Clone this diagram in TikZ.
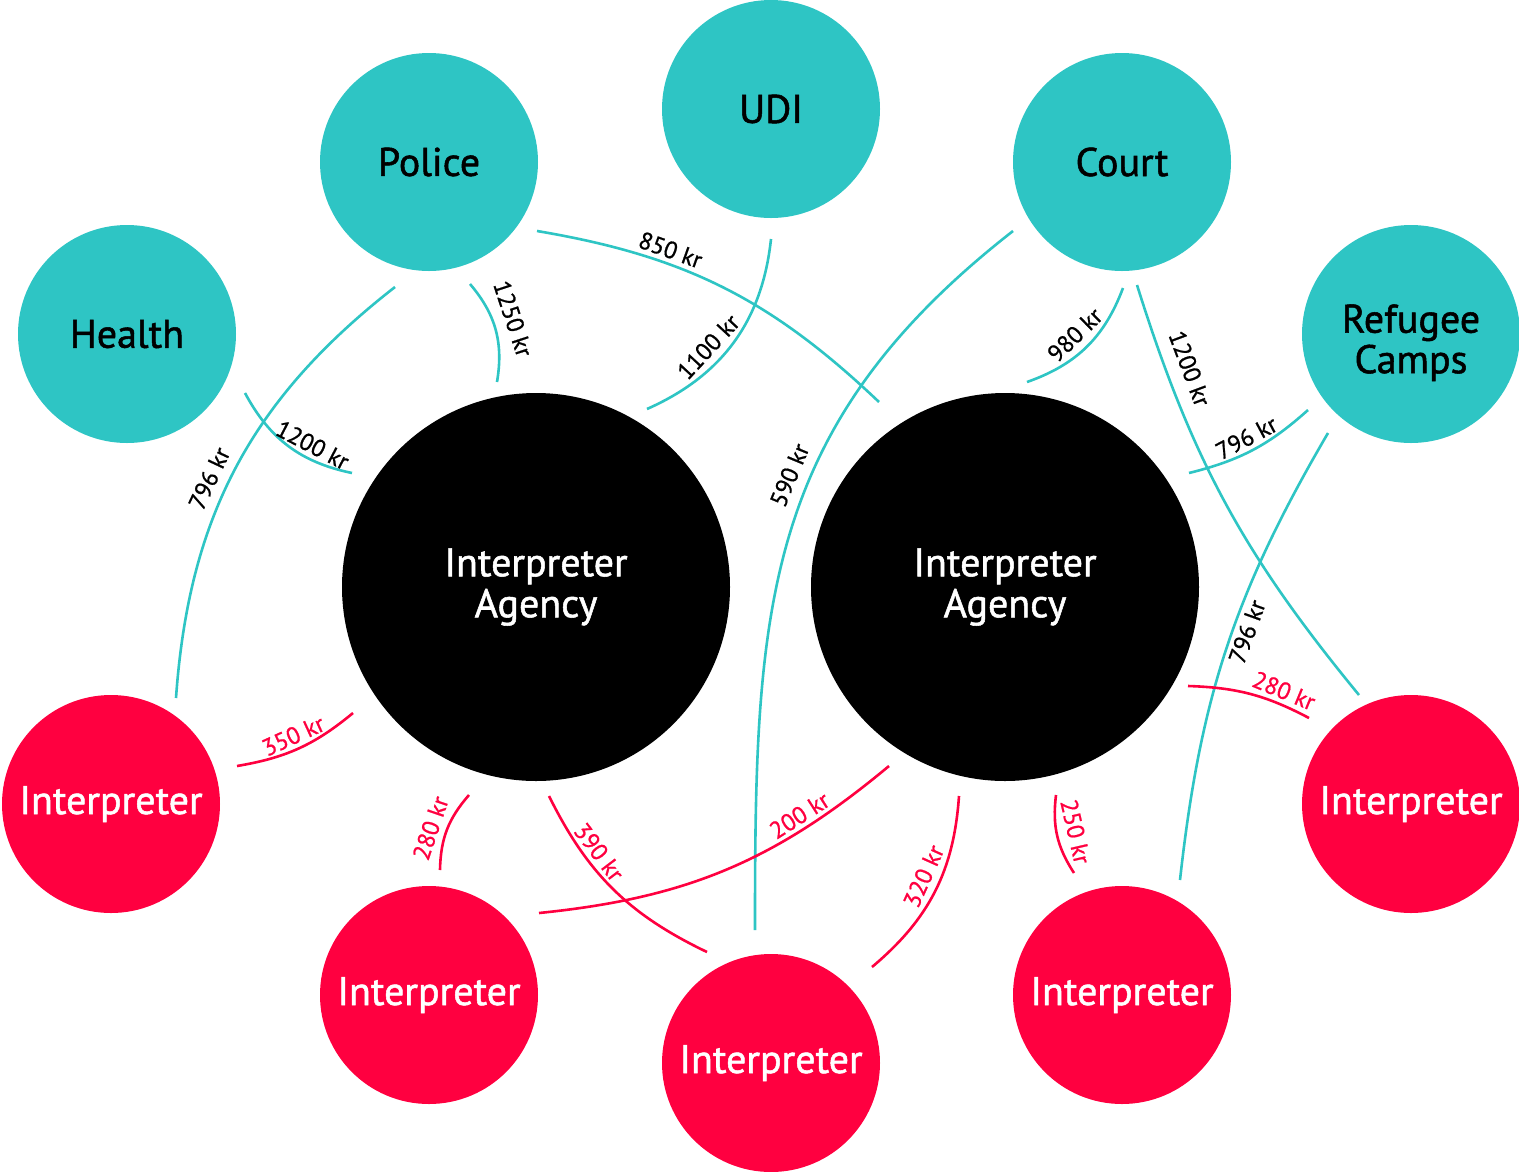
\documentclass[tikz,border=0pt]{standalone}
\usepackage{fontspec}
\setmainfont{PT Sans}
\newfontfamily\heavy{PT Sans}[FakeBold=1.3]
\newfontfamily\medium{PT Sans}[FakeBold=0.8]
\definecolor{teal}{RGB}{46,197,196}
\definecolor{redint}{RGB}{255,0,64}
\tikzset{
  org/.style={circle, fill=teal, minimum size=218pt, inner sep=0pt, text=black, align=center, font=\heavy\fontsize{40}{40}\selectfont},
  agency/.style={circle, fill=black, minimum size=388pt, inner sep=0pt, text=white, align=center, font=\heavy\fontsize{40}{41}\selectfont},
  interp/.style={circle, fill=redint, minimum size=218pt, inner sep=0pt, text=white, font=\heavy\fontsize{40}{40}\selectfont},
  tlink/.style={draw=teal, line width=2.6pt},
  rlink/.style={draw=redint, line width=2.6pt},
  tfee/.style={sloped, inner sep=4pt, text=black, font=\medium\fontsize{24}{24}\selectfont},
  rfee/.style={sloped, inner sep=4pt, text=redint, font=\medium\fontsize{24}{24}\selectfont},
}
\begin{document}
\begin{tikzpicture}[x=1pt,y=-1pt]
\useasboundingbox[fill=white] (0,0) rectangle (1519,1171);

% clients
\node[org] (health) at (127,334) {Health};
\node[org] (police) at (429,162) {Police};
\node[org] (udi) at (771,109) {UDI};
\node[org] (court) at (1122,162) {Court};
\node[org] (camps) at (1411,334) {\raisebox{-17pt}[0pt][0pt]{\begin{tabular}{@{}c@{}}Refugee\\Camps\end{tabular}}};

% agencies
\node[agency] (ag1) at (536,587) {Interpreter\\Agency};
\node[agency] (ag2) at (1005,587) {Interpreter\\Agency};

% interpreters
\node[interp] (i1) at (111,804) {Interpreter};
\node[interp] (i2) at (429,995) {Interpreter};
\node[interp] (i3) at (771,1063) {Interpreter};
\node[interp] (i4) at (1122,995) {Interpreter};
\node[interp] (i5) at (1411,804) {Interpreter};

% connector end points
\coordinate (t1a) at (395,287);  \coordinate (t1b) at (176,698);
\coordinate (t2a) at (245,393);  \coordinate (t2b) at (352,473);
\coordinate (t3a) at (470,284);  \coordinate (t3b) at (497,382);
\coordinate (t4a) at (537,231);  \coordinate (t4b) at (879,402);
\coordinate (t5a) at (771,239);  \coordinate (t5b) at (647,409);
\coordinate (t6a) at (1013,231); \coordinate (t6b) at (755,930);
\coordinate (t7a) at (1123,288); \coordinate (t7b) at (1027,382);
\coordinate (t8a) at (1137,285); \coordinate (t8b) at (1359,695);
\coordinate (t9a) at (1308,410); \coordinate (t9b) at (1189,473);
\coordinate (t10a) at (1328,433); \coordinate (t10b) at (1180,880);
\coordinate (r1a) at (237,766);  \coordinate (r1b) at (353,713);
\coordinate (r2a) at (469,795);  \coordinate (r2b) at (440,870);
\coordinate (r3a) at (549,796);  \coordinate (r3b) at (707,952);
\coordinate (r4a) at (889,766);  \coordinate (r4b) at (539,913);
\coordinate (r5a) at (959,796);  \coordinate (r5b) at (872,967);
\coordinate (r6a) at (1056,795); \coordinate (r6b) at (1074,873);
\coordinate (r7a) at (1188,686); \coordinate (r7b) at (1309,718);

% client fees
\draw[tlink] (t1a) to[bend right=24] node[tfee, pos=0.55, above, inner sep=9pt] {796 kr} (t1b);
\draw[tlink] (t2a) to[bend right=25] node[tfee, pos=0.66, above] {1200 kr} (t2b);
\draw[tlink] (t3a) to[bend left=25] node[tfee, pos=0.45, above, inner sep=10pt] {1250 kr} (t3b);
\draw[tlink] (t4a) to[bend left=17] node[tfee, pos=0.33, above] {850 kr} (t4b);
\draw[tlink] (t5a) to[bend left=30] node[tfee, pos=0.6, above, inner sep=7pt] {1100 kr} (t5b);
\draw[tlink] (t6a) to[out=-142, in=90, looseness=1.1] node[tfee, pos=0.42, above, inner sep=10pt] {590 kr} (t6b);
\draw[tlink] (t7a) to[bend left=25] node[tfee, pos=0.5, above, inner sep=7pt] {980 kr} (t7b);
\draw[tlink] (t8a) to[bend right=11] node[tfee, pos=0.19, above, inner sep=13pt] {1200 kr} (t8b);
\draw[tlink] (t9a) to[bend left=14] node[tfee, pos=0.5, above] {796 kr} (t9b);
\draw[tlink] (t10a) to[bend right=12] node[tfee, pos=0.45, below] {796 kr} (t10b);

% interpreter fees
\draw[rlink] (r1a) to[bend right=15] node[rfee, pos=0.5, above] {350 kr} (r1b);
\draw[rlink] (r2a) to[bend right=20] node[rfee, pos=0.55, above, inner sep=6pt] {280 kr} (r2b);
\draw[rlink] (r3a) to[bend right=19] node[rfee, pos=0.32, above] {390 kr} (r3b);
\draw[rlink] (r4a) to[bend left=17] node[rfee, pos=0.25, above] {200 kr} (r4b);
\draw[rlink] (r5a) to[bend left=23] node[rfee, pos=0.45, above, inner sep=7pt] {320 kr} (r5b);
\draw[rlink] (r6a) to[bend right=20] node[rfee, pos=0.5, above, inner sep=9pt] {250 kr} (r6b);
\draw[rlink] (r7a) to[bend left=13] node[rfee, pos=0.75, above] {280 kr} (r7b);
\end{tikzpicture}
\end{document}
